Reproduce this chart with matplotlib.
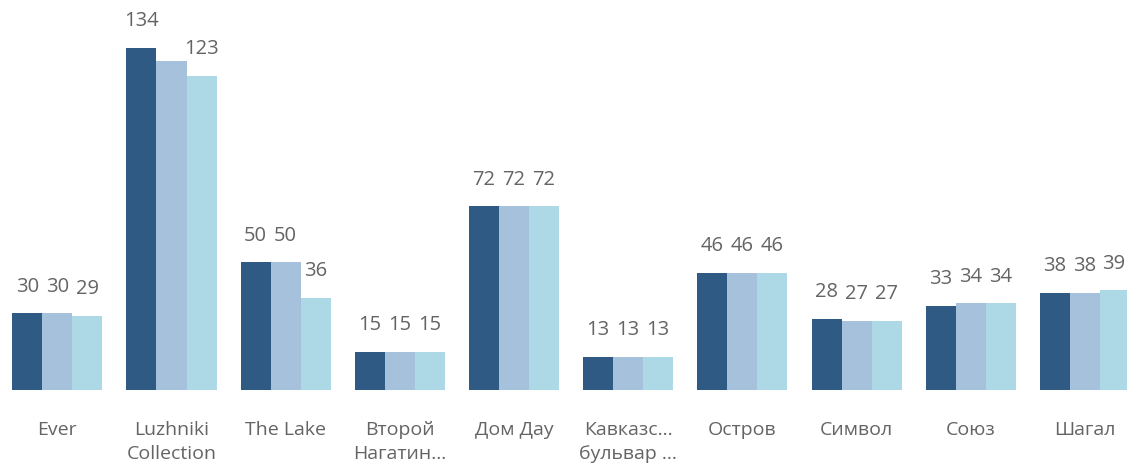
import matplotlib
matplotlib.use('Agg')
import numpy as np
from matplotlib import pyplot as plt

categories = ['Ever', 'Luzhniki\nCollection', 'The Lake', 'Второй\nНагатин...', 'Дом Дау',
              'Кавказс...\nбульвар ...', 'Остров', 'Символ', 'Союз', 'Шагал']
series_1 = [30, 134, 50, 15, 72, 13, 46, 28, 33, 38]
series_2 = [30, 129, 50, 15, 72, 13, 46, 27, 34, 38]
series_3 = [29, 123, 36, 15, 72, 13, 46, 27, 34, 39]
# labels that the original chart hides because they collide (group, series)
hidden_labels = {(1, 1)}

colors = ['#2F5A83', '#A6C1DC', '#ADD8E5']

plt.rcParams['font.family'] = ['Open Sans', 'DejaVu Sans']

fig = plt.figure(figsize=(11.27, 4.66), dpi=100)
ax = fig.add_axes([0, 76 / 466, 1, 390 / 466])

x = np.arange(len(categories))
w = 0.263
labels = []
for j, vals in enumerate([series_1, series_2, series_3]):
    pos = x + (j - 1) * w
    ax.bar(pos, vals, width=w, color=colors[j], linewidth=0)
    for i, (p, v) in enumerate(zip(pos, vals)):
        if (i, j) in hidden_labels:
            continue
        t = ax.annotate(str(v), (p, v), xytext=(0, 12), textcoords='offset points',
                        ha='center', va='bottom', fontsize=14.5, color='#646464')
        labels.append(t)

ax.set_xlim(-0.502, 9.368)
ax.set_ylim(0, 152.8)
ax.set_xticks(x)
ax.set_xticklabels(categories, fontsize=14, color='#646464', linespacing=1.45)
ax.tick_params(axis='x', length=0, pad=22)
ax.set_yticks([])
for s in ax.spines.values():
    s.set_visible(False)

# keep data labels inside the figure, like the original does
fig.canvas.draw()
r = fig.canvas.get_renderer()
fig_w = fig.bbox.width
for t in labels:
    bb = t.get_window_extent(r)
    if bb.x1 > fig_w - 2:
        dx = (bb.x1 - (fig_w - 2)) * 72 / fig.dpi
        t.set_position((-dx, 12))

fig.savefig('out.png', dpi=100)
